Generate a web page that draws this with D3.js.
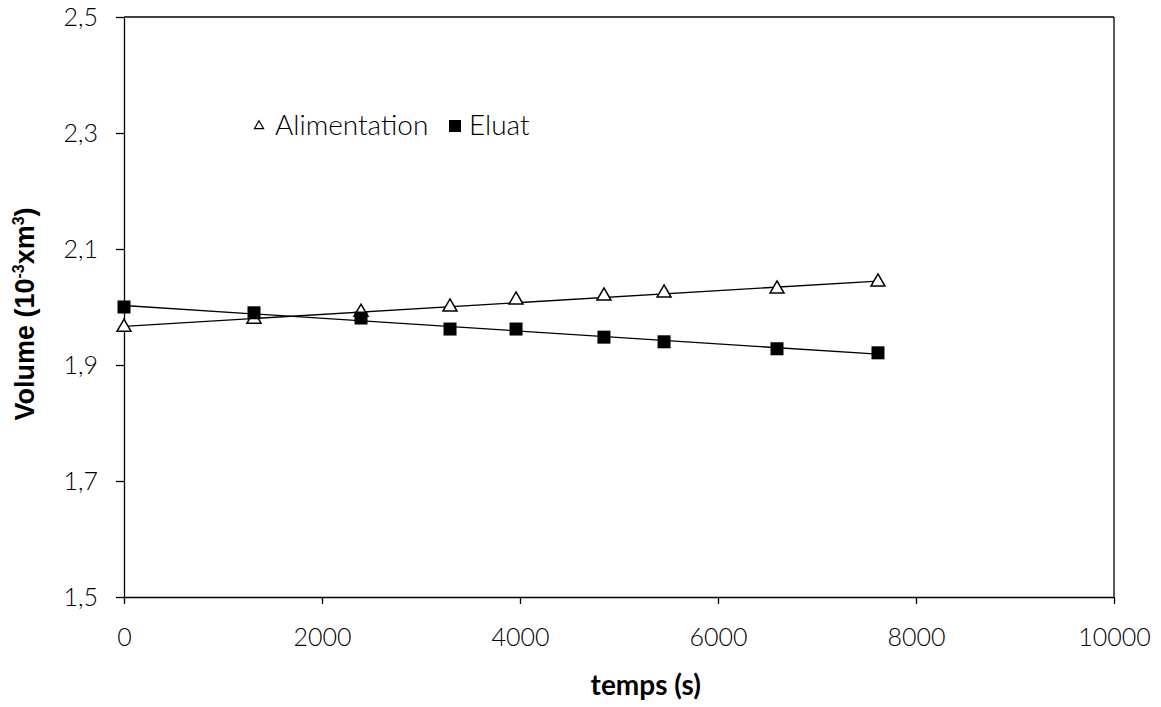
<!DOCTYPE html>
<html>
<head>
<meta charset="utf-8">
<script src="https://cdn.jsdelivr.net/npm/d3@7"></script>
<style>
  body { margin: 0; background: #fff; }
  .tick text { font-family: "Century Gothic", "URW Gothic", Lato, sans-serif; font-weight: 300; font-size: 25px; fill: #000; }
  .tick line, .domain { stroke: #000; stroke-width: 1.3; }
</style>
</head>
<body>
<div id="container"></div>
<script>
// data
const times = [0, 1313, 2394, 3293, 3960, 4848, 5455, 6596, 7616];
const alimentation = [1.965, 1.979, 1.991, 2.0, 2.012, 2.019, 2.024, 2.031, 2.043];
const eluat = [2.0, 1.99, 1.981, 1.962, 1.962, 1.948, 1.94, 1.928, 1.921];
const xTicks = [0, 2000, 4000, 6000, 8000, 10000];
const yTicks = [1.5, 1.7, 1.9, 2.1, 2.3, 2.5];

const width = 1161;
const height = 707;
const margin = { top: 17, right: 47, bottom: 110, left: 124 };
const w = width - margin.left - margin.right;
const h = height - margin.top - margin.bottom;

const svg = d3
  .select("#container")
  .append("svg")
  .attr("width", width)
  .attr("height", height);

const g = svg.append("g").attr("transform", `translate(${margin.left}, ${margin.top})`);

const xScale = d3.scaleLinear().domain([0, 10000]).range([0, w]);
const yScale = d3.scaleLinear().domain([1.5, 2.5]).range([h, 0]);

// frame top / right
g.append("line").attr("x1", 0).attr("x2", w).attr("y1", 0).attr("y2", 0)
  .attr("stroke", "#000").attr("stroke-width", 1.3);
g.append("line").attr("x1", w).attr("x2", w).attr("y1", 0).attr("y2", h)
  .attr("stroke", "#000").attr("stroke-width", 1.3);

// axes
g.append("g")
  .attr("transform", `translate(0, ${h})`)
  .call(d3.axisBottom(xScale).tickValues(xTicks).tickSize(7).tickPadding(24).tickSizeOuter(0).tickFormat(d3.format("d")));

g.append("g")
  .call(d3.axisLeft(yScale).tickValues(yTicks).tickSize(8).tickPadding(18).tickSizeOuter(0)
    .tickFormat((d) => d3.format(".1f")(d).replace(".", ",")));

// axis titles
svg.append("text")
  .attr("x", margin.left + xScale(5270))
  .attr("y", 695)
  .attr("text-anchor", "middle")
  .style("font-family", "'Century Gothic', 'URW Gothic', Lato, sans-serif")
  .style("font-weight", "bold")
  .style("font-size", "28px")
  .text("temps (s)");

const yt = svg.append("text")
  .attr("transform", "translate(34, 314) rotate(-90)")
  .attr("text-anchor", "middle")
  .style("font-family", "'Liberation Sans', Arial, sans-serif")
  .style("font-weight", "bold")
  .style("font-size", "27px");
yt.append("tspan").text("Volume (10");
yt.append("tspan").attr("dy", -10).style("font-size", "16px").text("-3");
yt.append("tspan").attr("dy", 10).text("xm");
yt.append("tspan").attr("dy", -10).style("font-size", "16px").text("3");
yt.append("tspan").attr("dy", 10).text(")");

// linear trend lines
const fit = (xs, ys) => {
  const mx = d3.mean(xs), my = d3.mean(ys);
  const b = d3.sum(xs, (x, i) => (x - mx) * (ys[i] - my)) / d3.sum(xs, (x) => (x - mx) ** 2);
  return (x) => my + b * (x - mx);
};
const line = d3.line().x((d) => xScale(d[0])).y((d) => yScale(d[1]));
[alimentation, eluat].forEach((ys) => {
  const f = fit(times, ys);
  const ends = d3.extent(times);
  g.append("path")
    .datum(ends.map((t) => [t, f(t)]))
    .attr("fill", "none")
    .attr("stroke", "#000")
    .attr("stroke-width", 1.3)
    .attr("d", line);
});

// markers
const tri = d3.symbol().type(d3.symbolTriangle).size(85);
g.selectAll(".tri")
  .data(times.map((t, i) => [t, alimentation[i]]))
  .enter()
  .append("path")
  .attr("class", "tri")
  .attr("d", tri)
  .attr("transform", (d) => `translate(${xScale(d[0])}, ${yScale(d[1])})`)
  .attr("fill", "#fff")
  .attr("stroke", "#000")
  .attr("stroke-width", 1.5);

g.selectAll(".sq")
  .data(times.map((t, i) => [t, eluat[i]]))
  .enter()
  .append("rect")
  .attr("class", "sq")
  .attr("x", (d) => xScale(d[0]) - 6.5)
  .attr("y", (d) => yScale(d[1]) - 6.5)
  .attr("width", 13)
  .attr("height", 13)
  .attr("fill", "#000");

// legend
const lg = svg.append("g").attr("transform", "translate(259, 126)");
lg.append("path")
  .attr("d", d3.symbol().type(d3.symbolTriangle).size(36))
  .attr("fill", "#fff").attr("stroke", "#000").attr("stroke-width", 1.2);
lg.append("text").attr("x", 16).attr("y", 9)
  .style("font-family", "'Century Gothic', 'URW Gothic', Lato, sans-serif")
  .style("font-weight", 300)
  .style("font-size", "28px")
  .text("Alimentation");
lg.append("rect").attr("x", 190).attr("y", -6).attr("width", 12).attr("height", 12).attr("fill", "#000");
lg.append("text").attr("x", 210).attr("y", 9)
  .style("font-family", "'Century Gothic', 'URW Gothic', Lato, sans-serif")
  .style("font-weight", 300)
  .style("font-size", "28px")
  .text("Eluat");
</script>
</body>
</html>
